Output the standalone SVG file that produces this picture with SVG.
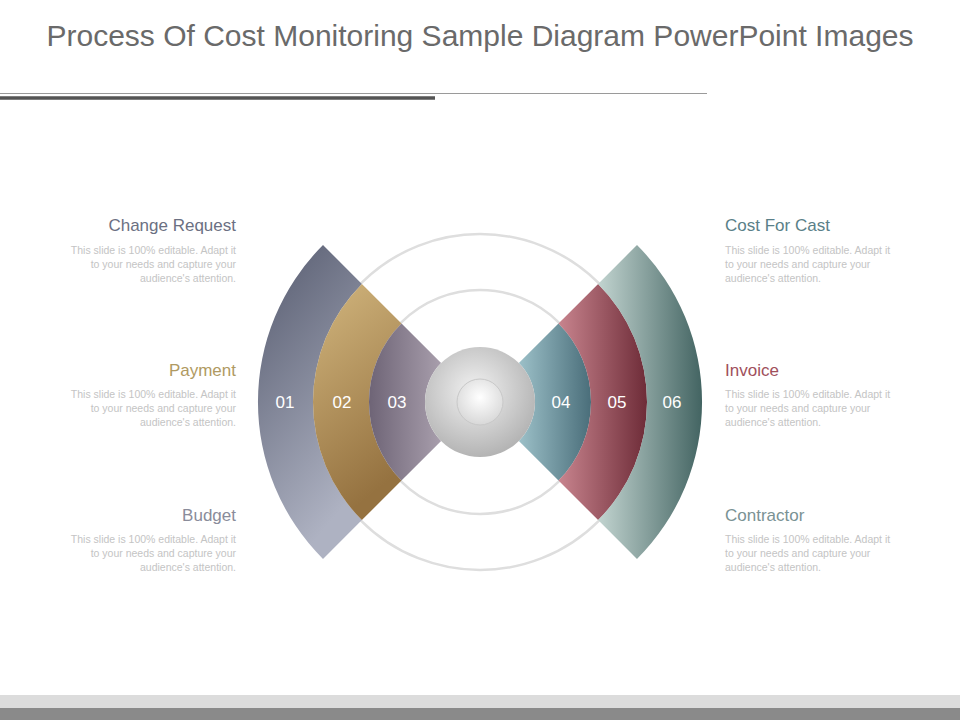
<svg xmlns="http://www.w3.org/2000/svg" width="960" height="720" viewBox="0 0 960 720">
<style>
.h{font-family:"Liberation Sans",Arial,sans-serif;font-size:17px}
.b{font-family:"Liberation Sans",Arial,sans-serif;font-size:10.5px;fill:#c4c4c4}
.n{font-family:"Liberation Sans",Arial,sans-serif;font-size:17px;fill:#fff;text-anchor:middle}
.ring{fill:none;stroke:#dedede;stroke-width:2.5}
</style>
<defs>
<linearGradient id="g1" x1="0" y1="0" x2="0.4" y2="1"><stop offset="0" stop-color="#555a6e"/><stop offset="1" stop-color="#aeb2c2"/></linearGradient>
<linearGradient id="g2" x1="0" y1="0" x2="0.3" y2="1"><stop offset="0" stop-color="#d2b67e"/><stop offset="1" stop-color="#957240"/></linearGradient>
<linearGradient id="g3" x1="0" y1="0" x2="1" y2="0"><stop offset="0" stop-color="#6e6476"/><stop offset="1" stop-color="#a89eac"/></linearGradient>
<linearGradient id="g4" x1="0" y1="0" x2="1" y2="0"><stop offset="0" stop-color="#9cc0c8"/><stop offset="1" stop-color="#4a6e7a"/></linearGradient>
<linearGradient id="g5" x1="0" y1="0" x2="1" y2="0"><stop offset="0" stop-color="#c8848e"/><stop offset="1" stop-color="#6e2c38"/></linearGradient>
<linearGradient id="g6" x1="0" y1="0" x2="1" y2="0"><stop offset="0" stop-color="#c2d4d0"/><stop offset="1" stop-color="#436462"/></linearGradient>
<radialGradient id="gc" cx="0.45" cy="0.4" r="0.6"><stop offset="0" stop-color="#f2f2f2"/><stop offset="1" stop-color="#b4b4b4"/></radialGradient>
<radialGradient id="gh" cx="0.5" cy="0.4" r="0.6"><stop offset="0" stop-color="#fff"/><stop offset="1" stop-color="#d8d8d8"/></radialGradient>
</defs>
<rect width="960" height="720" fill="#fff"/>
<text x="480" y="46" text-anchor="middle" font-family="Liberation Sans,Arial,sans-serif" font-size="30" fill="#6a6a6a">Process Of Cost Monitoring Sample Diagram PowerPoint Images</text>
<line x1="0" y1="93.5" x2="707" y2="93.5" stroke="#9a9a9a" stroke-width="1"/>
<line x1="0" y1="98" x2="435" y2="98" stroke="#555" stroke-width="3.5"/>
<rect x="0" y="695" width="960" height="13" fill="#dcdcdc"/>
<rect x="0" y="708" width="960" height="12" fill="#8a8a8a"/>
<g id="rings"><circle class="ring" cx="480" cy="402" r="168"/><circle class="ring" cx="480" cy="402" r="112"/></g>
<g id="n1"><path d="M323,245 A222,222 0 0 0 323,559 L361.9,520.1 A167,167 0 0 1 361.9,283.9 Z" fill="url(#g1)"/><text class="n" x="285" y="408">01</text></g>
<g id="n2"><path d="M361.9,283.9 A167,167 0 0 0 361.9,520.1 L401.5,480.5 A111,111 0 0 1 401.5,323.5 Z" fill="url(#g2)"/><text class="n" x="342" y="408">02</text></g>
<g id="n3"><path d="M401.5,323.5 A111,111 0 0 0 401.5,480.5 L441.1,440.9 A55,55 0 0 1 441.1,363.1 Z" fill="url(#g3)"/><text class="n" x="397" y="408">03</text></g>
<g id="n4"><path d="M558.5,323.5 A111,111 0 0 1 558.5,480.5 L518.9,440.9 A55,55 0 0 0 518.9,363.1 Z" fill="url(#g4)"/><text class="n" x="561" y="408">04</text></g>
<g id="n5"><path d="M598.1,283.9 A167,167 0 0 1 598.1,520.1 L558.5,480.5 A111,111 0 0 0 558.5,323.5 Z" fill="url(#g5)"/><text class="n" x="617" y="408">05</text></g>
<g id="n6"><path d="M637,245 A222,222 0 0 1 637,559 L598.1,520.1 A167,167 0 0 0 598.1,283.9 Z" fill="url(#g6)"/><text class="n" x="672" y="408">06</text></g>
<g id="center"><circle cx="480" cy="402" r="55" fill="url(#gc)"/><circle cx="480" cy="402" r="23" fill="url(#gh)" stroke="#c8c8c8" stroke-width="1"/></g>
<g id="t1" text-anchor="end"><text class="h" x="236" y="231" fill="#6b7082">Change Request</text><text class="b" x="236" y="254">This slide is 100% editable. Adapt it</text><text class="b" x="236" y="268">to your needs and capture your</text><text class="b" x="236" y="282">audience's attention.</text></g>
<g id="t2" text-anchor="end"><text class="h" x="236" y="376" fill="#b09a62">Payment</text><text class="b" x="236" y="398">This slide is 100% editable. Adapt it</text><text class="b" x="236" y="412">to your needs and capture your</text><text class="b" x="236" y="426">audience's attention.</text></g>
<g id="t3" text-anchor="end"><text class="h" x="236" y="521" fill="#8a8c9a">Budget</text><text class="b" x="236" y="543">This slide is 100% editable. Adapt it</text><text class="b" x="236" y="557">to your needs and capture your</text><text class="b" x="236" y="571">audience's attention.</text></g>
<g id="t4"><text class="h" x="725" y="231" fill="#5a7f88">Cost For Cast</text><text class="b" x="725" y="254">This slide is 100% editable. Adapt it</text><text class="b" x="725" y="268">to your needs and capture your</text><text class="b" x="725" y="282">audience's attention.</text></g>
<g id="t5"><text class="h" x="725" y="376" fill="#a0505c">Invoice</text><text class="b" x="725" y="398">This slide is 100% editable. Adapt it</text><text class="b" x="725" y="412">to your needs and capture your</text><text class="b" x="725" y="426">audience's attention.</text></g>
<g id="t6"><text class="h" x="725" y="521" fill="#7a9294">Contractor</text><text class="b" x="725" y="543">This slide is 100% editable. Adapt it</text><text class="b" x="725" y="557">to your needs and capture your</text><text class="b" x="725" y="571">audience's attention.</text></g>
</svg>
